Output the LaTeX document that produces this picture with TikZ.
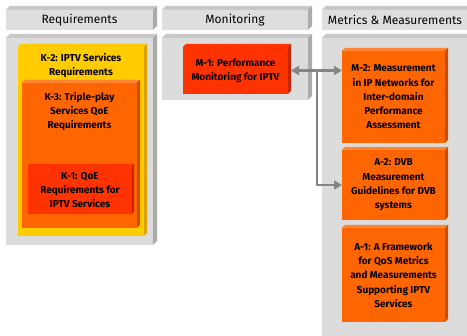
\documentclass[tikz,border=0pt]{standalone}
\usepackage{fontspec}
\setmainfont{Fira Sans}
\usetikzlibrary{arrows.meta,positioning,calc}
\definecolor{headgray}{HTML}{DEDEDE}
\definecolor{panelgray}{HTML}{DCDCDC}
\definecolor{grayside}{HTML}{ABABAB}
\definecolor{graytop}{HTML}{C8C8C8}
\definecolor{kyellow}{HTML}{FFCC00}
\definecolor{kyellowside}{HTML}{D9A300}
\definecolor{korange}{HTML}{FF6600}
\definecolor{korangeside}{HTML}{C94F00}
\definecolor{korangetop}{HTML}{FF8533}
\definecolor{kred}{HTML}{FF3300}
\definecolor{kredside}{HTML}{C42700}
\definecolor{arrowgray}{HTML}{858585}
% top and right faces of a box: node, depth, top colour, side colour
\newcommand{\boxdepth}[4]{%
  \fill[#3] (#1.north west) -- ++(#2,-#2) -- ($(#1.north east)+(#2pt,#2pt)$) -- (#1.north east) -- cycle;
  \fill[#4] (#1.north east) -- ++(#2,-#2) -- ($(#1.south east)+(#2pt,#2pt)$) -- (#1.south east) -- cycle;}
\tikzset{
    %Define style for column headers
    header/.style={
           rectangle,
           fill=headgray,
           inner sep=0pt, outer sep=0pt,
           minimum height=20pt,
           font=\fontsize{12}{13}\selectfont,
           text centered},
    %Define style for column panels
    panel/.style={
           rectangle,
           fill=panelgray,
           inner sep=0pt, outer sep=0pt},
    %Define style for document boxes
    docbox/.style={
           rectangle,
           inner sep=0pt, outer sep=0pt,
           minimum width=103pt,
           align=center,
           font=\bfseries\fontsize{10}{14.3}\selectfont},
    boxtext/.style={
           inner sep=0pt,
           align=center,
           font=\bfseries\fontsize{10}{14.3}\selectfont},
    % Define arrow style
    conn/.style={
           draw=arrowgray,
           line width=2.2pt,
           arrows={-Triangle[length=8pt,width=9pt]}}
}
\begin{document}
\begin{tikzpicture}[x=1pt,y=-1pt]
\useasboundingbox (0,0) rectangle (467,336);

 %headers
\node[header, minimum width=147pt] (hreq) at (79.5,20) {Requirements};
\node[header, minimum width=146pt] (hmon) at (235,20) {Monitoring};
\node[header, minimum width=146pt] (hmet) at (395,20) {Metrics \& Measurements};
\boxdepth{hreq}{4}{graytop}{grayside}
\boxdepth{hmon}{4}{graytop}{grayside}
\boxdepth{hmet}{4}{graytop}{grayside}

 %panels
\node[panel, minimum width=147pt, minimum height=207pt] (preq) at (79.5,141.5) {};
\node[panel, minimum width=146pt, minimum height=62pt] (pmon) at (235,69) {};
\node[panel, minimum width=146pt, minimum height=302pt] (pmet) at (395,189) {};
\boxdepth{preq}{4}{graytop}{grayside}
\boxdepth{pmon}{4}{graytop}{grayside}
\boxdepth{pmet}{4}{graytop}{grayside}

 %requirements
\node[docbox, fill=kyellow, minimum width=126pt, minimum height=189pt] (k2) at (81,141.5) {};
\boxdepth{k2}{3}{kyellow}{kyellowside}
\node[boxtext, below=6pt of k2.north] (k2txt) {K-2: IPTV Services\\Requirements};
\node[docbox, fill=korange, minimum width=115pt, minimum height=145pt] (k3) at (79.5,155.5) {};
\boxdepth{k3}{3}{korangetop}{korangeside}
\node[boxtext, below=9pt of k3.north] (k3txt) {K-3: Triple-play\\Services QoE\\Requirements};
\node[docbox, fill=kred, minimum width=104pt, minimum height=48pt] (k1) at (80,190)
  {K-1: QoE\\Requirements for\\IPTV Services};
\boxdepth{k1}{2}{kred}{kredside}

 %monitoring
\node[docbox, fill=kred, minimum width=105pt, minimum height=47pt] (m1) at (235.5,70.5)
  {M-1: Performance\\Monitoring for IPTV};
\boxdepth{m1}{3}{kred}{kredside}

 %metrics and measurements
\node[docbox, fill=korange, minimum height=92pt] (m2) at (393.5,97)
  {M-2: Measurement\\in IP Networks for\\Inter-domain\\Performance\\Assessment};
\node[docbox, fill=korange, minimum height=70pt, below=7pt of m2] (a2)
  {A-2: DVB\\Measurement\\Guidelines for DVB\\systems};
\node[docbox, fill=korange, minimum height=94pt, below=8pt of a2] (a1)
  {A-1: A Framework\\for QoS Metrics\\and Measurements\\Supporting IPTV\\Services};
\boxdepth{m2}{3}{korangetop}{korangeside}
\boxdepth{a2}{3}{korangetop}{korangeside}
\boxdepth{a1}{3}{korangetop}{korangeside}

 %connectors
\coordinate (split) at (317,70.5);
\draw[conn, arrows={Triangle[length=8pt,width=9pt]-Triangle[length=8pt,width=9pt]}]
  ([xshift=3pt]m1.east) -- (m1.east -| m2.west);
\draw[conn] (split) |- (a2.west);
\end{tikzpicture}
\end{document}
